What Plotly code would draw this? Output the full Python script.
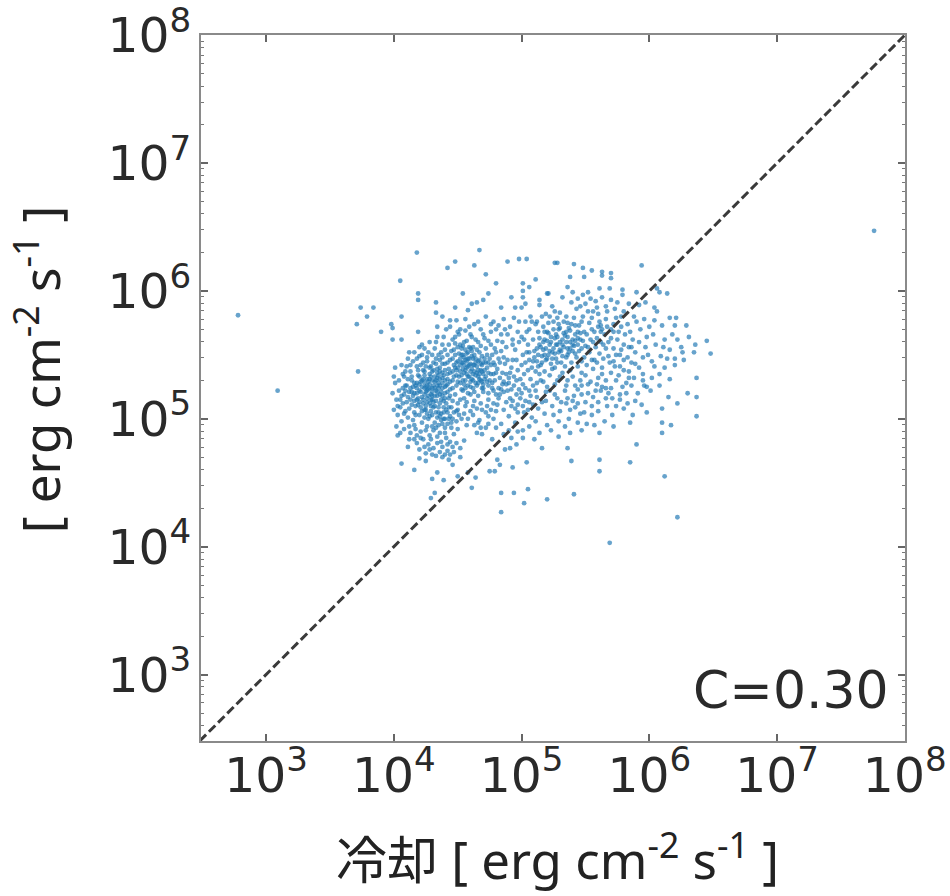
import plotly.graph_objects as go

# log10 exponents (cooling, heating), grouped by region
outliers = [(2.78,5.81),(3.09,5.22),(7.76,6.47),(5.69,4.03),(6.22,4.23)]

upper_sparse = [
(4.18,6.30),(4.67,6.32),(4.48,6.23),(4.42,6.18),(4.63,6.20),(4.89,6.23),(4.98,6.25),(5.04,6.25),(4.72,6.13),
(4.05,6.08),(4.80,6.06),(5.01,6.06),(5.11,6.09),(5.01,6.00),(5.06,6.03),(4.19,5.98),(4.19,5.93),(4.54,5.98),
(4.74,5.98),(4.92,5.95),(5.01,5.95),(5.14,5.93),(5.14,5.89),(5.20,5.98),(4.33,5.91),(4.70,5.93),(4.65,5.91),
(4.61,5.90),(3.74,5.87),(3.84,5.87),(4.48,5.87),(4.58,5.85),(4.84,5.87),(4.95,5.87),(5.00,5.87),(5.03,5.90),
(3.79,5.80),(4.06,5.80),(4.33,5.83),(3.71,5.74),(3.99,5.71),(3.90,5.68),(4.19,5.68),(4.38,5.80),(4.44,5.77),
(4.49,5.77),(4.34,5.72),(4.44,5.72),(3.99,5.62),(4.06,5.62),(4.34,5.64),(4.20,5.56),(4.12,5.52),(3.72,5.37),
(4.01,5.40),(3.98,5.74),(4.22,5.58),(4.56,5.78),(4.63,5.74),(4.72,5.80),(4.78,5.76),(4.86,5.78),(4.91,5.72),
(5.07,5.80),(5.12,5.76),(5.19,5.82),(5.24,5.88),(5.30,5.83),(4.52,5.70),(4.60,5.66),(4.68,5.70),(4.76,5.68),
]

upper_right = [
(5.26,6.22),(5.28,6.22),(5.41,6.21),(5.48,6.18),(5.55,6.16),(5.63,6.15),(5.70,6.14),(5.63,6.12),(5.70,6.10),
(5.94,6.20),(5.38,6.11),(5.49,6.11),(5.21,5.98),(5.36,6.03),(5.40,5.99),(5.52,5.99),(5.61,6.02),(5.69,6.02),
(5.79,6.01),(5.79,5.97),(5.90,5.99),(6.06,6.02),(6.14,5.98),(6.08,5.99),(5.39,5.91),(5.48,5.97),(5.63,5.95),
(5.70,5.93),(5.75,5.91),(5.92,5.89),(6.04,5.87),(5.97,5.91),(6.06,5.84),(6.16,5.79),(6.21,5.79),(6.29,5.73),
(6.04,5.77),(6.10,5.73),(6.20,5.73),(6.18,5.66),(6.31,5.64),(6.45,5.61),(6.36,5.58),(6.25,5.56),(6.26,5.52),
(6.35,5.52),(6.48,5.51),(6.03,5.66),(6.05,5.58),(5.97,5.56),(5.89,5.52),(5.95,5.48),(6.09,5.49),(6.14,5.47),
(6.20,5.47),(6.20,5.42),(5.89,5.43),(6.04,5.41),(6.02,5.45),(5.84,5.37),(5.77,5.41),(5.73,5.41),(6.16,5.31),
(6.37,5.32),(5.95,5.35),(6.02,5.32),(6.08,5.35),(5.95,5.30),(5.84,5.32),(5.96,5.26),(5.66,5.24),(5.47,5.19),
(6.30,5.20),(6.37,5.17),(5.77,5.19),(5.62,5.22),(5.66,5.16),(5.77,5.15),(5.94,5.11),(6.10,5.08),(5.98,5.05),
(5.55,5.03),(5.71,5.03),(5.87,5.03),(6.37,5.02),(5.76,5.68),(5.83,5.74),(5.87,5.62),(5.93,5.70),(5.80,5.58),
(5.74,5.50),(5.83,5.48),(5.68,5.60),(5.62,5.68),(5.56,5.84),(5.46,5.88),(5.58,5.92),(5.32,5.95),(5.67,5.84),
(5.72,5.74),(5.80,5.84),(5.88,5.80),(5.96,5.78),
]

lower_sparse = [
(5.85,4.97),(6.10,4.97),(6.17,4.95),(6.10,4.89),(5.61,4.89),(5.38,4.89),(5.47,4.91),(5.90,4.80),(5.36,4.77),
(5.16,4.77),(5.39,4.67),(5.61,4.68),(5.85,4.66),(5.61,4.59),(6.12,4.55),(5.04,4.66),(4.93,4.62),(4.75,4.59),
(4.79,4.59),(4.64,4.54),(4.61,4.46),(4.84,4.42),(4.94,4.42),(5.05,4.45),(5.41,4.41),(5.20,4.37),(5.02,4.34),
(4.84,4.27),(4.06,4.65),(4.16,4.60),(4.30,4.53),(4.39,4.52),(4.34,4.58),(4.32,4.42),(4.29,4.38),(4.50,4.55),
(4.58,4.58),(4.20,4.69),(4.25,4.67),(4.38,4.70),(4.43,4.68),(4.46,4.64),(4.52,4.70),(4.11,4.78),(4.18,4.81),
(4.03,4.87),(4.05,4.89),(4.25,4.73),(4.31,4.77),(4.34,4.81),(4.44,4.82),(4.46,4.78),(4.52,4.77),(4.55,4.83),
(4.65,4.89),(4.69,4.88),(4.77,4.84),(4.87,4.76),(4.81,4.68),(4.83,4.64),(4.91,4.77),(4.96,4.80),(5.01,4.85),
(4.90,4.91),(5.01,4.91),(5.11,4.98),(5.20,4.95),
]

diagonal_band = [
(4.66,4.97),(4.72,4.93),(4.78,5.00),(4.84,4.96),(4.90,5.02),(4.95,4.97),(5.02,5.05),(5.08,5.01),(5.13,5.08),
(5.18,5.04),(5.24,5.10),(5.30,5.06),(5.35,5.12),(5.42,5.09),(5.28,5.16),(5.22,5.22),(5.12,5.17),(5.06,5.13),
(4.97,5.11),(4.86,5.07),(4.78,5.12),(4.69,5.07),(4.62,5.03),(4.57,4.95),(4.91,5.16),(5.00,5.20),(5.09,5.26),
(5.17,5.29),(5.26,5.27),(5.34,5.22),(5.41,5.18),(5.50,5.13),(5.55,5.10),(5.60,5.06),(5.47,5.26),(5.54,5.29),
(5.60,5.32),(5.66,5.30),(5.70,5.36),(5.47,5.36),(5.40,5.33),(5.32,5.36),(5.24,5.39),(5.14,5.35),(5.56,5.39),
(5.63,5.40),(5.69,5.44),(5.74,5.30),(5.79,5.25),(5.37,5.00),(5.44,4.97),(5.51,4.96),(5.29,4.98),(5.23,4.91),
(5.29,4.86),(5.34,4.94),(5.57,4.95),(5.65,4.98),(5.72,4.94),(5.80,5.08),(5.89,5.14),(5.06,4.94),(5.14,4.89),
(5.10,4.84),(4.74,5.15),(4.83,5.19),(4.70,5.21),(4.63,5.14),(4.56,5.10),(4.51,5.03),(4.45,4.97),(4.40,4.93),
(5.25,5.03),(5.16,5.13),(5.05,5.07),(4.95,5.08),(5.31,5.13),(5.44,5.23),(5.58,5.22),(5.49,5.05),(5.38,5.07),
(5.71,5.16),(5.67,5.10),(5.82,5.20),(5.86,5.26),(5.91,5.20),(6.01,5.22),(6.08,5.26),(6.15,5.17),(6.22,5.12),
]

core_left = [
(4.01,5.28),(4.04,5.22),(4.02,5.15),(4.05,5.09),(4.03,5.03),(4.06,4.98),(4.08,5.33),(4.09,5.26),(4.08,5.19),
(4.10,5.13),(4.09,5.06),(4.11,5.01),(4.12,4.94),(4.13,5.37),(4.14,5.30),(4.13,5.24),(4.15,5.18),(4.14,5.11),
(4.16,5.05),(4.15,4.99),(4.17,4.92),(4.18,5.41),(4.19,5.34),(4.18,5.28),(4.20,5.22),(4.19,5.16),(4.21,5.09),
(4.20,5.03),(4.22,4.97),(4.21,4.90),(4.23,5.44),(4.24,5.37),(4.23,5.31),(4.25,5.25),(4.24,5.19),(4.26,5.13),
(4.25,5.07),(4.27,5.00),(4.26,4.94),(4.28,4.87),(4.28,5.40),(4.29,5.33),(4.28,5.27),(4.30,5.21),(4.29,5.15),
(4.31,5.09),(4.30,5.03),(4.32,4.97),(4.31,4.91),(4.33,5.47),(4.34,5.36),(4.33,5.30),(4.35,5.24),(4.34,5.18),
(4.36,5.12),(4.35,5.05),(4.37,4.99),(4.36,4.89),(4.38,5.43),(4.39,5.34),(4.38,5.28),(4.40,5.20),(4.39,5.14),
(4.41,5.07),(4.40,5.00),(4.42,5.50),(4.43,5.39),(4.42,5.31),(4.44,5.23),(4.43,5.16),(4.45,5.09),(4.44,5.02),
(4.12,5.21),(4.17,5.26),(4.22,5.17),(4.27,5.23),(4.16,5.14),(4.21,5.29),(4.26,5.16),(4.31,5.26),(4.23,5.12),
(4.18,5.20),(4.29,5.19),(4.33,5.22),(4.24,5.24),(4.20,5.27),(4.27,5.29),(4.15,5.25),(4.11,5.17),(4.25,5.21),
(4.30,5.15),(4.35,5.28),(4.37,5.21),(4.28,5.12),(4.19,5.11),(4.22,5.06),(4.26,5.04),(4.32,5.10),(4.06,5.18),
(4.03,5.10),(4.07,5.35),(4.10,5.41),(4.15,5.45),(4.20,5.49),(4.27,5.52),(4.32,5.55),(4.38,5.58),(4.07,5.24),
(4.12,5.08),(4.17,5.03),(4.24,5.01),(4.29,5.06),(4.34,5.01),(4.39,5.09),(4.42,5.05),(4.33,4.93),(4.40,4.89),
(4.23,4.84),(4.18,4.87),(4.13,4.89),(4.27,4.80),(4.35,5.34),(4.41,5.26),(4.36,5.40),(4.31,5.44),(4.25,5.41),
]

core_left_dense = [
(4.14,5.33),(4.16,5.28),(4.18,5.24),(4.20,5.33),(4.22,5.30),(4.22,5.25),(4.24,5.34),(4.24,5.28),(4.26,5.31),
(4.26,5.26),(4.26,5.22),(4.28,5.35),(4.28,5.31),(4.28,5.24),(4.30,5.37),(4.30,5.30),(4.30,5.24),(4.30,5.18),
(4.32,5.33),(4.32,5.29),(4.32,5.24),(4.32,5.18),(4.34,5.39),(4.34,5.32),(4.34,5.26),(4.34,5.21),(4.36,5.37),
(4.36,5.31),(4.36,5.26),(4.36,5.19),(4.38,5.36),(4.38,5.32),(4.38,5.24),(4.38,5.18),(4.40,5.38),(4.40,5.30),
(4.40,5.25),(4.40,5.16),(4.42,5.35),(4.42,5.27),(4.42,5.21),(4.44,5.36),(4.44,5.29),(4.44,5.18),(4.46,5.37),
(4.46,5.30),(4.46,5.24),(4.46,5.14),(4.21,5.21),(4.23,5.15),(4.25,5.10),(4.27,5.18),(4.29,5.10),(4.31,5.13),
(4.33,5.14),(4.35,5.09),(4.37,5.15),(4.39,5.05),(4.41,5.12),(4.43,5.09),(4.19,5.38),(4.21,5.42),(4.23,5.38),
(4.26,5.45),(4.29,5.41),(4.31,5.38),(4.33,5.43),(4.36,5.46),(4.38,5.48),(4.40,5.43),(4.42,5.44),(4.44,5.46),
(4.10,5.26),(4.11,5.31),(4.13,5.15),(4.14,5.21),(4.17,5.10),(4.20,5.13),(4.16,5.20),(4.18,5.15),(4.09,5.22),
(4.07,5.12),(4.05,5.15),(4.08,5.04),(4.24,5.07),(4.28,5.02),(4.33,5.05),(4.37,5.04),(4.30,4.94),(4.35,4.95),
(4.38,4.96),(4.42,4.96),(4.45,4.93),(4.25,4.91),(4.29,4.84),(4.34,4.86),(4.37,4.82),(4.41,4.85),(4.21,4.85),
(4.46,5.00),(4.47,5.05),(4.43,5.00),(4.39,5.00),(4.36,5.02),(4.49,4.98),(4.50,4.92),(4.47,4.88),(4.16,4.95),
]

core_mid = [
(4.46,5.62),(4.47,5.54),(4.46,5.47),(4.48,5.40),(4.47,5.33),(4.49,5.26),(4.48,5.19),(4.50,5.12),(4.49,5.06),
(4.51,5.66),(4.52,5.58),(4.51,5.51),(4.53,5.44),(4.52,5.37),(4.54,5.30),(4.53,5.23),(4.55,5.16),(4.56,5.69),
(4.57,5.61),(4.56,5.54),(4.58,5.47),(4.57,5.40),(4.59,5.33),(4.58,5.26),(4.60,5.19),(4.61,5.64),(4.62,5.56),
(4.61,5.49),(4.63,5.42),(4.62,5.35),(4.64,5.28),(4.63,5.21),(4.66,5.60),(4.67,5.52),(4.66,5.45),(4.68,5.38),
(4.67,5.31),(4.69,5.24),(4.71,5.63),(4.72,5.55),(4.71,5.47),(4.73,5.40),(4.72,5.33),(4.74,5.26),(4.76,5.58),
(4.77,5.50),(4.76,5.42),(4.78,5.35),(4.77,5.28),(4.81,5.61),(4.82,5.47),(4.81,5.39),(4.83,5.32),(4.82,5.24),
(4.50,5.45),(4.54,5.50),(4.59,5.42),(4.55,5.36),(4.60,5.37),(4.64,5.44),(4.58,5.52),(4.52,5.42),(4.56,5.30),
(4.61,5.31),(4.65,5.36),(4.69,5.42),(4.53,5.55),(4.49,5.34),(4.57,5.45),(4.62,5.47),(4.54,5.39),(4.50,5.29),
(4.47,5.42),(4.60,5.55),(4.66,5.33),(4.70,5.35),(4.74,5.44),(4.79,5.42),(4.85,5.36),(4.87,5.43),(4.86,5.29),
(4.89,5.22),(4.90,5.32),(4.92,5.40),(4.88,5.56),(4.84,5.66),(4.93,5.62),(4.95,5.54),
]

core_mid_dense = [
(4.48,5.50),(4.49,5.44),(4.49,5.38),(4.50,5.56),(4.50,5.40),(4.51,5.33),(4.52,5.47),(4.53,5.34),(4.53,5.50),
(4.54,5.44),(4.54,5.57),(4.55,5.42),(4.55,5.48),(4.55,5.27),(4.56,5.38),(4.56,5.46),(4.57,5.35),(4.57,5.51),
(4.58,5.41),(4.58,5.33),(4.59,5.47),(4.59,5.56),(4.60,5.43),(4.60,5.29),(4.61,5.39),(4.61,5.53),(4.62,5.42),
(4.62,5.30),(4.63,5.50),(4.63,5.37),(4.64,5.34),(4.64,5.47),(4.65,5.41),(4.65,5.54),(4.66,5.38),(4.66,5.28),
(4.67,5.46),(4.67,5.35),(4.68,5.43),(4.68,5.30),(4.69,5.49),(4.69,5.37),(4.70,5.44),(4.70,5.27),(4.71,5.38),
(4.71,5.31),(4.72,5.44),(4.73,5.50),(4.74,5.36),(4.75,5.30),(4.75,5.47),(4.76,5.35),(4.78,5.44),(4.79,5.30),
(4.80,5.52),(4.80,5.36),(4.83,5.44),(4.84,5.53),(4.85,5.27),(4.86,5.48),(4.88,5.35),(4.89,5.46),(4.90,5.28),
(4.91,5.36),(4.93,5.46),(4.94,5.33),(4.94,5.26),(4.54,5.22),(4.58,5.20),(4.62,5.24),(4.66,5.18),(4.70,5.24),
(4.74,5.20),(4.78,5.22),(4.82,5.16),(4.86,5.21),(4.52,5.15),(4.57,5.13),(4.62,5.10),(4.68,5.12),(4.73,5.10),
]

core_right = [
(4.96,5.46),(4.97,5.38),(4.96,5.30),(4.98,5.23),(5.00,5.64),(5.01,5.50),(5.00,5.42),(5.02,5.35),(5.01,5.27),
(5.04,5.68),(5.05,5.58),(5.06,5.46),(5.05,5.38),(5.07,5.31),(5.09,5.62),(5.10,5.53),(5.09,5.45),(5.11,5.37),
(5.13,5.68),(5.14,5.58),(5.13,5.50),(5.15,5.42),(5.17,5.72),(5.18,5.62),(5.17,5.54),(5.19,5.46),(5.18,5.37),
(5.21,5.67),(5.22,5.58),(5.21,5.50),(5.23,5.43),(5.22,5.34),(5.25,5.76),(5.26,5.63),(5.25,5.55),(5.27,5.47),
(5.26,5.40),(5.29,5.70),(5.30,5.60),(5.29,5.52),(5.31,5.44),(5.33,5.76),(5.34,5.65),(5.33,5.56),(5.35,5.48),
(5.34,5.41),(5.37,5.71),(5.38,5.60),(5.37,5.52),(5.39,5.44),(5.41,5.79),(5.42,5.66),(5.41,5.57),(5.43,5.48),
(5.45,5.73),(5.46,5.62),(5.45,5.53),(5.47,5.45),(5.49,5.68),(5.50,5.57),(5.49,5.48),(5.53,5.75),(5.54,5.62),
(5.53,5.52),(5.57,5.68),(5.58,5.56),(5.57,5.46),(5.61,5.76),(5.62,5.60),(5.61,5.51),(5.65,5.66),(5.66,5.55),
(5.15,5.56),(5.20,5.61),(5.24,5.52),(5.28,5.58),(5.32,5.62),(5.36,5.55),(5.23,5.64),(5.18,5.50),(5.40,5.62),
(5.44,5.58),(5.12,5.45),(5.27,5.66),(5.31,5.53),(5.35,5.68),(5.39,5.74),(5.44,5.68),(5.48,5.80),(5.52,5.84),
(5.16,5.80),(5.11,5.74),(5.06,5.70),(5.21,5.75),(5.26,5.84),(5.35,5.80),(5.43,5.86),(5.50,5.90),(5.60,5.82),
]

core_right_dense = [
(5.03,5.44),(5.06,5.52),(5.08,5.40),(5.10,5.48),(5.12,5.55),(5.13,5.41),(5.14,5.63),(5.16,5.49),(5.16,5.44),
(5.17,5.60),(5.19,5.55),(5.20,5.47),(5.20,5.68),(5.22,5.53),(5.23,5.60),(5.24,5.47),(5.25,5.70),(5.26,5.51),
(5.27,5.58),(5.28,5.64),(5.28,5.44),(5.30,5.54),(5.30,5.71),(5.32,5.58),(5.32,5.49),(5.33,5.67),(5.35,5.60),
(5.36,5.50),(5.36,5.64),(5.38,5.55),(5.38,5.69),(5.40,5.53),(5.40,5.58),(5.42,5.61),(5.42,5.51),(5.44,5.63),
(5.46,5.67),(5.47,5.55),(5.48,5.61),(5.51,5.66),(5.52,5.56),(5.55,5.70),(5.56,5.60),(5.59,5.63),(5.60,5.72),
(5.63,5.70),(5.64,5.58),(5.67,5.72),(5.70,5.63),(5.72,5.55),(5.75,5.62),(5.78,5.72),(5.81,5.66),(5.84,5.56),
(5.28,5.30),(5.36,5.30),(5.42,5.26),(5.50,5.34),(5.52,5.20),(5.59,5.27),(5.63,5.35),(5.20,5.25),(5.12,5.28),
(5.06,5.22),(4.99,5.16),(4.92,5.10),(5.03,5.14),(4.80,5.06),(4.74,5.02),(4.67,4.99),(5.19,5.14),(5.36,5.16),
]

bridge_fill = [
(4.48,5.59),(4.50,5.68),(4.55,5.60),(4.59,5.72),(4.64,5.62),(4.68,5.57),(4.70,5.66),(4.74,5.61),(4.79,5.55),
(4.80,5.70),(4.85,5.60),(4.89,5.66),(4.93,5.58),(4.97,5.68),(4.98,5.60),(5.02,5.62),(5.04,5.52),(4.52,5.28),
(4.56,5.24),(4.60,5.25),(4.65,5.26),(4.69,5.29),(4.73,5.29),(4.77,5.24),(4.80,5.19),(4.84,5.23),(4.88,5.27),
(4.92,5.23),(4.96,5.19),(4.99,5.31),(5.03,5.24),(5.07,5.18),(5.11,5.22),(5.15,5.30),(5.19,5.21),(4.88,5.13),
(4.93,5.14),(4.97,5.05),(5.01,5.10),(5.09,5.11),(4.72,5.05),(4.76,5.07),(4.81,5.11),(4.60,5.06),(4.65,5.08),
(4.55,5.04),(4.50,5.07),(4.53,5.00),(4.58,5.00),(4.63,4.95),(4.68,4.93),(4.74,4.96),(4.80,4.93),(4.86,4.88),
(4.92,4.85),(4.97,4.90),(4.38,4.78),(4.42,4.75),(4.40,4.72),(4.44,4.72),(4.47,4.74),(4.36,4.74),(4.33,4.71),
(4.49,4.81),(4.42,4.80),(4.30,4.72),(4.28,4.76),(4.24,4.78),(4.20,4.76),(4.16,4.84),(4.12,4.84),(4.08,4.92),
(4.02,4.94),(4.00,5.07),(3.99,5.20),(4.00,5.33),(4.04,5.30),(4.06,5.42),(4.11,5.47),(4.16,5.52),(4.24,5.55),
(4.28,5.60),(4.33,5.60),(4.37,5.52),(4.40,5.54),(4.43,5.58),(4.45,5.53),(4.48,5.64),(4.39,5.64),(4.41,5.70),
(4.30,5.50),(4.35,5.50),(4.26,5.48),(4.22,5.50),(4.18,5.47),(4.13,5.42),(4.09,5.37),(5.29,5.74),(5.36,5.75),
(5.42,5.73),(5.47,5.76),(5.55,5.79),(5.62,5.73),(5.66,5.78),(5.70,5.70),(5.74,5.79),(5.28,5.79),(5.22,5.80),
(5.18,5.68),(5.08,5.76),(5.03,5.76),(4.98,5.76),(4.94,5.79),(4.87,5.70),(4.82,5.73),(4.76,5.74),(4.66,5.76),
(5.55,5.46),(5.51,5.42),(5.44,5.41),(5.38,5.38),(5.30,5.33),(5.35,5.26),(5.46,5.30),(5.59,5.44),(5.64,5.47),
(5.68,5.49),(5.72,5.45),(5.77,5.50),(5.80,5.46),(5.70,5.24),(5.63,5.25),(5.56,5.17),(5.44,5.12),(5.26,5.19),
]

right_fill = [
(5.78,5.80),(5.85,5.68),(5.90,5.76),(5.92,5.60),(5.98,5.64),(6.00,5.72),(5.86,5.56),(5.78,5.54),(5.72,5.68),
(5.66,5.88),(5.54,5.94),(5.44,5.94),(5.59,5.87),(5.73,5.86),(5.84,5.90),(5.86,5.44),(5.92,5.40),(5.80,5.38),
(5.99,5.50),(6.11,5.56),(6.12,5.62),(6.16,5.54),(6.22,5.62),(6.27,5.46),(6.12,5.40),(5.98,5.25),(5.88,5.32),
(5.82,5.28),(5.76,5.34),(5.68,5.20),(5.60,5.13),(5.74,5.10),(5.83,5.12),(5.46,5.04),(5.40,5.14),(5.52,5.27),
]

diagonal_limits = [10 ** 2.48, 1e8]
x_range = [2.49, 8.002]
y_range = [2.48, 8.002]
note = "C=0.30"
x_title = "冷却 [ erg cm<sup>-2</sup> s<sup>-1</sup> ]"
y_title = "[ erg cm<sup>-2</sup> s<sup>-1</sup> ]"

points = (outliers + upper_sparse + upper_right + lower_sparse + diagonal_band + core_left + core_left_dense
          + core_mid + core_mid_dense + core_right + core_right_dense + bridge_fill + right_fill)
cooling = [10 ** p[0] for p in points]
heating = [10 ** p[1] for p in points]

fig = go.Figure()
fig.add_trace(go.Scatter(x=cooling, y=heating, mode="markers",
                         marker=dict(size=4.8, color="rgba(31,119,180,0.68)", line=dict(width=0))))
fig.add_trace(go.Scatter(x=diagonal_limits, y=diagonal_limits, mode="lines",
                         line=dict(color="#3a3a3a", width=3, dash="9px,4px")))

tick_font = dict(family="DejaVu Sans", size=39, color="#2a2a2a")
title_font = dict(family="Noto Sans, Noto Sans CJK JP", size=51, color="#222222")
common = dict(type="log", dtick=1, exponentformat="power", showgrid=False, zeroline=False,
              showline=True, linecolor="#8a8a8a", linewidth=2, mirror="allticks",
              ticks="inside", ticklen=7, tickwidth=1.5, tickcolor="#666666", tickfont=tick_font,
              ticklabeloverflow="allow")

fig.update_xaxes(range=x_range, ticklabelstandoff=-8, **common)
fig.update_yaxes(range=y_range,
                 minor=dict(dtick="D1", ticks="inside", ticklen=3, tickwidth=1, tickcolor="#777777"), **common)

fig.add_annotation(xref="paper", yref="paper", x=0.98, y=0.072, xanchor="right", yanchor="middle",
                   text=note, showarrow=False, font=dict(family="DejaVu Sans", size=52, color="#2a2a2a"))
fig.add_annotation(xref="paper", yref="paper", x=0.506, y=-0.164, xanchor="center", yanchor="middle",
                   text=x_title, showarrow=False, font=title_font)
fig.add_annotation(xref="paper", yref="paper", x=-0.232, y=0.526, xanchor="center", yanchor="middle",
                   text=y_title, textangle=-90, showarrow=False, font=title_font)

fig.update_layout(width=950, height=896, margin=dict(l=201, r=45, t=35, b=154.5, autoexpand=False),
                  plot_bgcolor="white", paper_bgcolor="white", showlegend=False)
fig.write_html("out.html", config={"displayModeBar": False},
               post_script="document.body.style.margin='0';document.documentElement.style.overflow='hidden';")
